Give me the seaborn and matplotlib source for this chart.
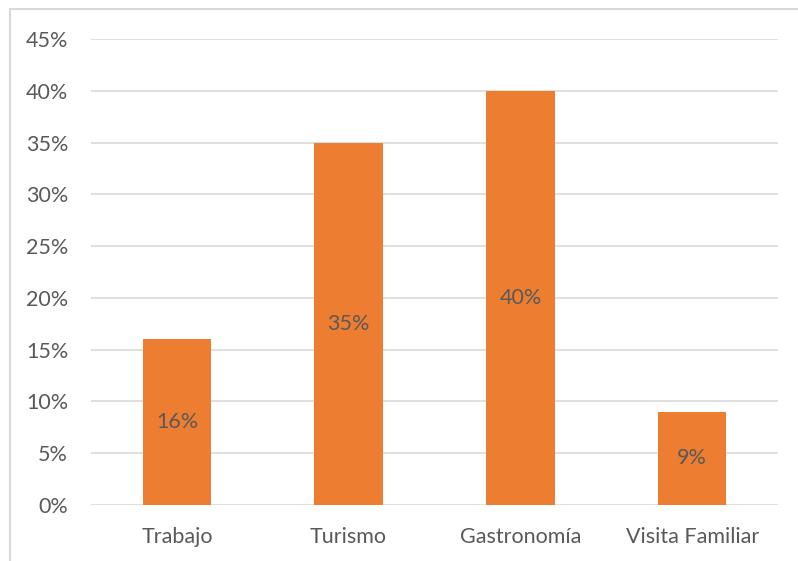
import matplotlib
matplotlib.use("Agg")
import matplotlib.pyplot as plt
import matplotlib.patches as mpatches
from matplotlib.ticker import MultipleLocator, FuncFormatter
import seaborn as sns
import pandas as pd

categories = ["Trabajo", "Turismo", "Gastronomía", "Visita Familiar"]
values = [16, 35, 40, 9]

df = pd.DataFrame({"motivo": categories, "pct": values})

sns.set_theme(style="white")
plt.rcParams["font.family"] = ["Lato", "DejaVu Sans"]

text_col = "#595959"
grid_col = "#D9D9D9"
bar_col = "#ED7D31"

fig = plt.figure(figsize=(7.98, 5.61), dpi=100)
W, H = 798, 561
ax = fig.add_axes([91 / W, (H - 505) / H, (778 - 91) / W, (505 - 39) / H])

sns.barplot(data=df, x="motivo", y="pct", color=bar_col, width=0.4,
            saturation=1, linewidth=0, ax=ax, zorder=3)

ax.set_xlim(-0.5, 3.5)
ax.set_ylim(0, 45)
ax.yaxis.set_major_locator(MultipleLocator(5))
ax.yaxis.set_major_formatter(FuncFormatter(lambda v, p: f"{v:.0f}%"))
ax.grid(axis="y", color=grid_col, linewidth=1.2, zorder=0)
ax.set_axisbelow(True)
for s in ax.spines.values():
    s.set_visible(False)
ax.set_xlabel("")
ax.set_ylabel("")
ax.tick_params(axis="both", length=0, labelsize=15.5, labelcolor=text_col)
ax.tick_params(axis="y", pad=16.5)
ax.tick_params(axis="x", pad=16)

for i, v in enumerate(values):
    ax.text(i, v / 2, f"{v}%", ha="center", va="center", fontsize=15.5,
            color=text_col, zorder=4)

# chart border (cut at right / bottom like the reference)
fig.add_artist(mpatches.Rectangle((10 / W, -0.1), 1.2, (H - 9) / H + 0.1,
                                  transform=fig.transFigure, fill=False,
                                  edgecolor=grid_col, linewidth=1.5))

fig.savefig("out.png", dpi=100, facecolor="white")
